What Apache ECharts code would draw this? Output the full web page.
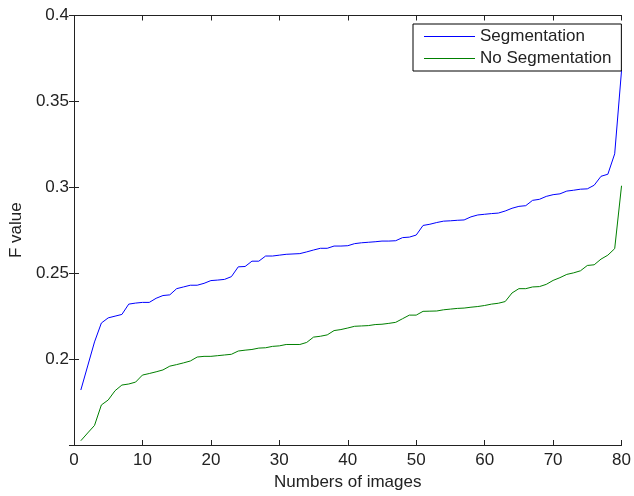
<!DOCTYPE html>
<html lang="en">
<head>
    <meta charset="UTF-8">
    <title>F value vs number of images</title>
    <script src="https://cdn.jsdelivr.net/npm/echarts@6.0.0/dist/echarts.min.js"></script>
    <style>
        body { margin: 0; background: #fff; }
    </style>
</head>
<body>
    <div id="main" style="width: 634px; height: 496px;"></div>

    <script>
        // F value, with segmentation (blue), image 1..80
        var segValues = [
            0.182, 0.196, 0.210, 0.221, 0.224, 0.225, 0.226, 0.232, 0.2326, 0.233,
            0.233, 0.2354, 0.237, 0.2374, 0.241, 0.242, 0.243, 0.243, 0.2441, 0.2457,
            0.246, 0.2464, 0.248, 0.2537, 0.2539, 0.257, 0.257, 0.260, 0.260, 0.2605,
            0.261, 0.2612, 0.2614, 0.2624, 0.2635, 0.2645, 0.2645, 0.2658, 0.2658, 0.266,
            0.2672, 0.2677, 0.268, 0.2683, 0.2687, 0.2687, 0.2689, 0.2707, 0.271, 0.2722,
            0.2778, 0.2785, 0.2795, 0.2803, 0.2805, 0.2808, 0.281, 0.2828, 0.2839, 0.2843,
            0.2847, 0.285, 0.2862, 0.2878, 0.2889, 0.2893, 0.2924, 0.293, 0.2947, 0.2957,
            0.2962, 0.2978, 0.2983, 0.2989, 0.2991, 0.3012, 0.3064, 0.3076, 0.3195, 0.368
        ];

        // F value, without segmentation (green)
        var noSegValues = [
            0.1525, 0.157, 0.1614, 0.1733, 0.1762, 0.1816, 0.1849, 0.1855, 0.1866, 0.1907,
            0.1916, 0.1926, 0.1937, 0.1959, 0.1968, 0.1978, 0.1989, 0.2012, 0.2016, 0.2016,
            0.202, 0.2024, 0.2028, 0.2047, 0.2052, 0.2056, 0.2064, 0.2066, 0.2074, 0.2077,
            0.2085, 0.2085, 0.2085, 0.2097, 0.2128, 0.2133, 0.2141, 0.2166, 0.2172, 0.2181,
            0.2191, 0.2193, 0.2195, 0.2201, 0.2203, 0.2208, 0.2214, 0.2235, 0.2256, 0.2256,
            0.2278, 0.2279, 0.228, 0.2287, 0.2291, 0.2295, 0.2297, 0.2302, 0.2306, 0.2312,
            0.232, 0.2325, 0.2335, 0.2385, 0.241, 0.241, 0.242, 0.2422, 0.2435, 0.2458,
            0.2474, 0.2493, 0.2502, 0.2514, 0.2545, 0.2549, 0.2582, 0.2605, 0.2643, 0.3009
        ];

        var seriesNames = ['Segmentation', 'No Segmentation'];

        function toPoints(values) {
            return values.map(function (v, i) { return [i + 1, v]; });
        }

        var font = "'Liberation Sans', Arial, Helvetica, sans-serif";
        var ink = '#222';
        // plain line legend icon (thin bar in a 51x17 box)
        var lineIcon = 'path://M0,0 M0,8 L51,8 L51,9 L0,9 Z M51,17';

        var chart = echarts.init(document.getElementById('main'));

        var boxAxis = {
            axisLine: { show: true, lineStyle: { color: ink, width: 1 } },
            axisTick: { show: true, inside: true, length: 5, lineStyle: { color: ink } },
            splitLine: { show: false }
        };

        var option = {
            animation: false,
            backgroundColor: '#fff',
            grid: { left: 73.5, right: 10.5, top: 15.5, bottom: 48 },
            legend: {
                orient: 'vertical',
                left: 413,
                top: 24,
                padding: [4, 10, 4, 11],
                itemGap: 5,
                itemWidth: 51,
                itemHeight: 17,
                borderColor: '#000',
                borderWidth: 1,
                backgroundColor: '#fff',
                textStyle: { fontFamily: font, fontSize: 17, color: ink },
                data: seriesNames.map(function (n) { return { name: n, icon: lineIcon }; })
            },
            xAxis: [
                Object.assign({
                    type: 'value',
                    min: 0,
                    max: 80,
                    interval: 10,
                    name: 'Numbers of images',
                    nameLocation: 'middle',
                    nameGap: 29,
                    nameTextStyle: { fontFamily: font, fontSize: 17, color: ink },
                    axisLabel: { margin: 7, fontFamily: font, fontSize: 17, color: ink }
                }, boxAxis),
                Object.assign({
                    type: 'value',
                    position: 'top',
                    min: 0,
                    max: 80,
                    interval: 10,
                    axisLabel: { show: false }
                }, boxAxis)
            ],
            yAxis: [
                Object.assign({
                    type: 'value',
                    min: 0.15,
                    max: 0.4,
                    interval: 0.05,
                    name: 'F value',
                    nameLocation: 'middle',
                    nameGap: 46,
                    nameTextStyle: { fontFamily: font, fontSize: 17, color: ink },
                    axisLabel: {
                        margin: 5,
                        fontFamily: font,
                        fontSize: 17,
                        color: ink,
                        formatter: function (v) {
                            return Math.abs(v - 0.15) < 1e-9 ? '' : String(+v.toFixed(2));
                        }
                    }
                }, boxAxis),
                Object.assign({
                    type: 'value',
                    position: 'right',
                    min: 0.15,
                    max: 0.4,
                    interval: 0.05,
                    axisLabel: { show: false }
                }, boxAxis)
            ],
            series: [
                {
                    name: seriesNames[0],
                    type: 'line',
                    symbol: 'none',
                    data: toPoints(segValues),
                    lineStyle: { color: '#0000ff', width: 1 },
                    itemStyle: { color: '#0000ff' }
                },
                {
                    name: seriesNames[1],
                    type: 'line',
                    symbol: 'none',
                    data: toPoints(noSegValues),
                    lineStyle: { color: '#008000', width: 1 },
                    itemStyle: { color: '#008000' }
                }
            ]
        };

        chart.setOption(option);
    </script>
</body>
</html>
